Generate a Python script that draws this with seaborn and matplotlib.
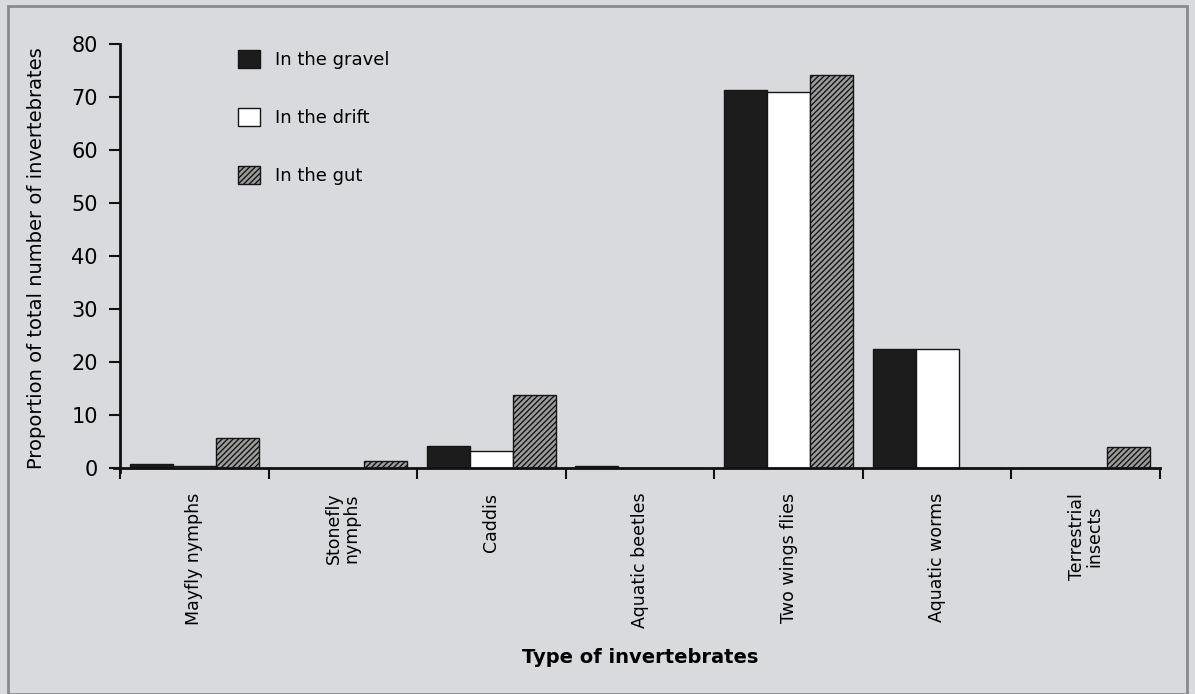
import matplotlib
matplotlib.use("Agg")
import matplotlib.pyplot as plt
import matplotlib.patches as mpatches
import seaborn as sns
import pandas as pd

categories = ["Mayfly nymphs", "Stonefly\nnymphs", "Caddis", "Aquatic beetles",
              "Two wings flies", "Aquatic worms", "Terrestrial\ninsects"]
series = ["In the gravel", "In the drift", "In the gut"]
gravel = [0.7, 0.0, 4.2, 0.3, 71.3, 22.5, 0.0]
drift = [0.3, 0.0, 3.1, 0.0, 70.9, 22.5, 0.0]
gut = [5.6, 1.2, 13.8, 0.0, 74.1, 0.0, 4.0]
yticks = [0, 10, 20, 30, 40, 50, 60, 70, 80]

rows = []
for name, vals in zip(series, [gravel, drift, gut]):
    for c, v in zip(categories, vals):
        rows.append({"cat": c, "series": name, "value": v})
df = pd.DataFrame(rows)

sns.set_style("white")
plt.rcParams["font.family"] = ["DejaVu Sans"]
plt.rcParams["hatch.linewidth"] = 1.0
plt.rcParams["text.color"] = "black"
plt.rcParams["axes.labelcolor"] = "black"
plt.rcParams["xtick.color"] = "black"
plt.rcParams["ytick.color"] = "black"

bg = "#d9dadd"
fig = plt.figure(figsize=(11.95, 6.94), dpi=100, facecolor=bg)
ax = fig.add_axes([120 / 1195, 1 - 472 / 694, 1040 / 1195, (472 - 44) / 694])
ax.set_facecolor(bg)

sns.barplot(data=df, x="cat", y="value", hue="series", order=categories,
            hue_order=series, palette=["#1c1c1c", "white", "#9a9a9a"],
            width=0.87, dodge=True, ax=ax, legend=False, errorbar=None,
            saturation=1)

styles = [dict(fc="#1c1c1c", hatch=None), dict(fc="white", hatch=None),
          dict(fc="#9c9c9c", hatch="//////")]
for cont, st in zip(ax.containers, styles):
    for p in cont.patches:
        p.set_facecolor(st["fc"])
        p.set_edgecolor("#151515")
        p.set_linewidth(1.0)
        if st["hatch"]:
            p.set_hatch(st["hatch"])

ax.set_xlim(-0.5, 6.5)
ax.set_ylim(-0.8, 80)
ax.set_yticks(yticks)
ax.set_yticklabels([str(t) for t in yticks], fontsize=15)
ax.tick_params(axis="y", left=True, direction="out", length=8, width=1.5,
               color="#111", pad=8)

for s in ["top", "right"]:
    ax.spines[s].set_visible(False)
ax.spines["left"].set_linewidth(2)
ax.spines["left"].set_color("#111")
ax.spines["bottom"].set_position(("data", 0))
ax.spines["bottom"].set_linewidth(2)
ax.spines["bottom"].set_color("#111")
ax.spines["bottom"].set_bounds(-0.54, 6.5)

ax.set_xticks(range(len(categories)))
ax.set_xticklabels(categories, rotation=90, fontsize=12.5, va="top", ha="center",
                   linespacing=1.0)
ax.tick_params(axis="x", which="major", bottom=False, length=0, pad=18)
ax.set_xticks([i - 0.5 for i in range(len(categories) + 1)], minor=True)
ax.tick_params(axis="x", which="minor", bottom=True, direction="out", length=8,
               width=1.5, color="#111")

ax.set_xlabel("Type of invertebrates", fontsize=14, fontweight="bold", labelpad=14)
ax.set_ylabel("Proportion of total number of invertebrates", fontsize=14, labelpad=18)

handles = [mpatches.Patch(facecolor=st["fc"], edgecolor="#151515",
                          hatch=st["hatch"], label=n) for st, n in zip(styles, series)]
leg = ax.legend(handles=handles, loc="upper left", bbox_to_anchor=(0.098, 1.025),
                frameon=False, fontsize=13, handlelength=1.2, handleheight=1.2,
                labelspacing=2.15, handletextpad=0.85)

fig.patches.append(mpatches.Rectangle((8 / 1195, 0), 1179 / 1195, 1 - 6 / 694,
                                      transform=fig.transFigure, fill=False,
                                      edgecolor="#8a8a8c", linewidth=2))

fig.savefig("out.png", dpi=100, facecolor=bg)
